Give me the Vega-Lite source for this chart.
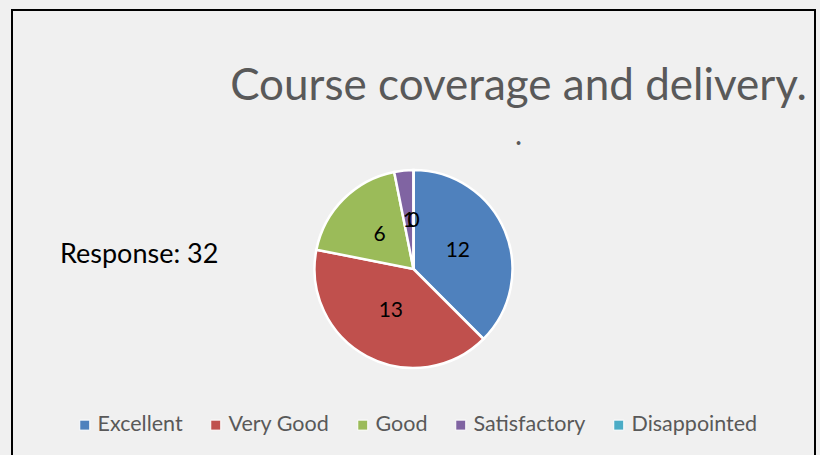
{
  "$schema": "https://vega.github.io/schema/vega-lite/v6.json",
  "width": 803,
  "height": 448,
  "autosize": {"type": "none"},
  "padding": {"left": 12, "top": 10, "right": 5, "bottom": 0},
  "background": "#f0f0f0",
  "view": {"stroke": "#000000", "strokeWidth": 2, "fill": null},
  "title": {
    "text": "Course coverage and delivery.",
    "subtitle": ".",
    "anchor": "middle",
    "frame": "group",
    "dx": 105,
    "offset": -141,
    "font": "Lato",
    "fontSize": 44,
    "fontWeight": "normal",
    "color": "#595959",
    "subtitleFont": "Lato",
    "subtitleFontSize": 30,
    "subtitleColor": "#595959",
    "subtitlePadding": 12
  },
  "config": {
    "view": {"stroke": "#000000", "strokeWidth": 2}
  },
  "layer": [
    {
      "data": {"values": [
        {"rating": "Excellent", "count": 12, "rank": 1},
        {"rating": "Very Good", "count": 13, "rank": 2},
        {"rating": "Good", "count": 6, "rank": 3},
        {"rating": "Satisfactory", "count": 1, "rank": 4},
        {"rating": "Disappointed", "count": 0, "rank": 5}
      ]},
      "layer": [
        {
          "mark": {"type": "arc", "outerRadius": 99, "stroke": "white", "strokeWidth": 2.5, "y": {"expr": "height/2+35"}},
          "encoding": {
            "theta": {"field": "count", "type": "quantitative", "stack": true},
            "order": {"field": "rank", "type": "quantitative", "sort": "ascending"},
            "color": {
              "field": "rating",
              "type": "nominal",
              "sort": ["Excellent", "Very Good", "Good", "Satisfactory", "Disappointed"],
              "scale": {
                "domain": ["Excellent", "Very Good", "Good", "Satisfactory", "Disappointed"],
                "range": ["#4f81bd", "#c0504d", "#9bbb59", "#8064a2", "#4bacc6"]
              },
              "legend": {
                "orient": "none",
                "legendX": 62,
                "legendY": 404,
                "direction": "horizontal",
                "title": null,
                "symbolType": "square",
                "symbolSize": 100,
                "symbolStrokeColor": "white",
                "symbolStrokeWidth": 1,
                "symbolOpacity": 1,
                "labelFont": "Lato",
                "labelFontSize": 21.5,
                "labelColor": "#595959",
                "labelOffset": 2,
                "columnPadding": 22,
                "labelLimit": 300
              }
            }
          }
        },
        {
          "mark": {"type": "text", "radius": 48, "font": "Lato", "fontSize": 21, "baseline": "middle", "align": "center", "y": {"expr": "height/2+35"}},
          "encoding": {
            "theta": {"field": "count", "type": "quantitative", "stack": true},
            "order": {"field": "rank", "type": "quantitative", "sort": "ascending"},
            "detail": {"field": "rating", "type": "nominal"},
            "text": {"field": "count", "type": "quantitative"},
            "color": {"value": "#000000"}
          }
        }
      ]
    },
    {
      "data": {"values": [{"note": "Response: 32"}]},
      "mark": {"type": "text", "x": 48, "y": {"expr": "height/2+21"}, "align": "left", "baseline": "middle", "font": "Lato", "fontSize": 27, "color": "#000000"},
      "encoding": {"text": {"field": "note", "type": "nominal"}}
    }
  ]
}
